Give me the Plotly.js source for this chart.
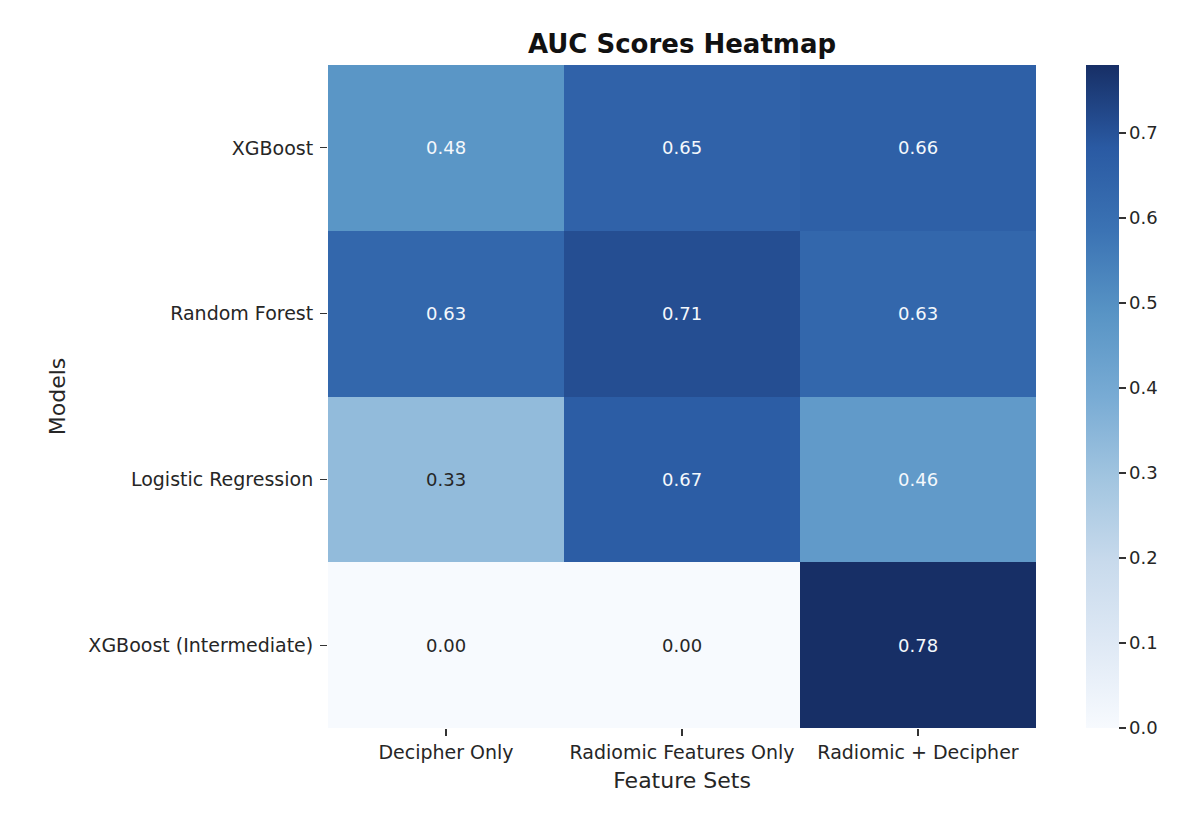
<!DOCTYPE html>
<html>
<head>
<meta charset="utf-8">
<script src="https://cdn.plot.ly/plotly-3.0.1.min.js"></script>
<style>html,body{margin:0;padding:0;background:#fff;}#chart{width:1200px;height:828px;}</style>
</head>
<body>
<div id="chart"></div>
<script>
const featureSets = ["Decipher Only", "Radiomic Features Only", "Radiomic + Decipher"];
const models = ["XGBoost", "Random Forest", "Logistic Regression", "XGBoost (Intermediate)"];
const xgboost = [0.48, 0.65, 0.66];
const randomForest = [0.63, 0.71, 0.63];
const logisticRegression = [0.33, 0.67, 0.46];
const xgboostIntermediate = [0.00, 0.00, 0.78];
const colorbarTicks = [0.0, 0.1, 0.2, 0.3, 0.4, 0.5, 0.6, 0.7];

const z = [xgboost, randomForest, logisticRegression, xgboostIntermediate];
const zmin = 0, zmax = 0.78;

const blues = [
  [0.0, "#f7fafe"], [0.125, "#dfe9f5"], [0.25, "#c8daec"], [0.375, "#a2c5e0"],
  [0.5, "#78abd4"], [0.625, "#5894c5"], [0.75, "#3b73b4"], [0.875, "#2a5aa3"], [1.0, "#172f66"]
];

const annotations = [];
models.forEach((m, i) => {
  featureSets.forEach((f, j) => {
    const v = z[i][j];
    annotations.push({
      x: f, y: m, xref: "x", yref: "y", text: v.toFixed(2), showarrow: false,
      font: {family: "DejaVu Sans", size: 18, color: (v / zmax) > 0.5 ? "#f4f8fc" : "#262626"}
    });
  });
});

const trace = {
  type: "heatmap", x: featureSets, y: models, z: z, zmin: zmin, zmax: zmax,
  colorscale: blues, xgap: 0, ygap: 0, hoverongaps: false,
  colorbar: {
    x: 1.0706, xanchor: "left", xref: "paper", xpad: 0, y: 0.5, yanchor: "middle",
    len: 1, lenmode: "fraction", ypad: 0,
    thickness: 33, outlinewidth: 0, ticks: "outside", ticklen: 7, tickwidth: 1.2, tickcolor: "#333",
    tickvals: colorbarTicks, ticktext: colorbarTicks.map(v => v.toFixed(1)),
    tickfont: {family: "DejaVu Sans", size: 18, color: "#262626"}
  }
};

const layout = {
  width: 1200, height: 828,
  margin: {l: 328, r: 164, t: 65, b: 100},
  paper_bgcolor: "#ffffff", plot_bgcolor: "#ffffff",
  title: {text: "<b>AUC Scores Heatmap</b>", x: 0.5, xref: "paper", y: 0.947, yanchor: "middle",
          font: {family: "DejaVu Sans", size: 26, color: "#111"}},
  xaxis: {title: {text: "Feature Sets", font: {family: "DejaVu Sans", size: 22, color: "#262626"}, standoff: 10},
          ticks: "outside", ticklen: 7, tickwidth: 1.2, tickcolor: "#333", showgrid: false, zeroline: false, showline: false,
          tickfont: {family: "DejaVu Sans", size: 19, color: "#262626"}},
  yaxis: {title: {text: "Models", font: {family: "DejaVu Sans", size: 22, color: "#262626"}, standoff: 16},
          autorange: "reversed", ticks: "outside", ticklen: 7, tickwidth: 1.2, tickcolor: "#333", showgrid: false,
          ticklabelstandoff: 3,
          zeroline: false, showline: false, tickfont: {family: "DejaVu Sans", size: 19, color: "#262626"}},
  annotations: annotations,
  font: {family: "DejaVu Sans"}
};

Plotly.newPlot("chart", [trace], layout, {displayModeBar: false, staticPlot: true});
</script>
</body>
</html>
